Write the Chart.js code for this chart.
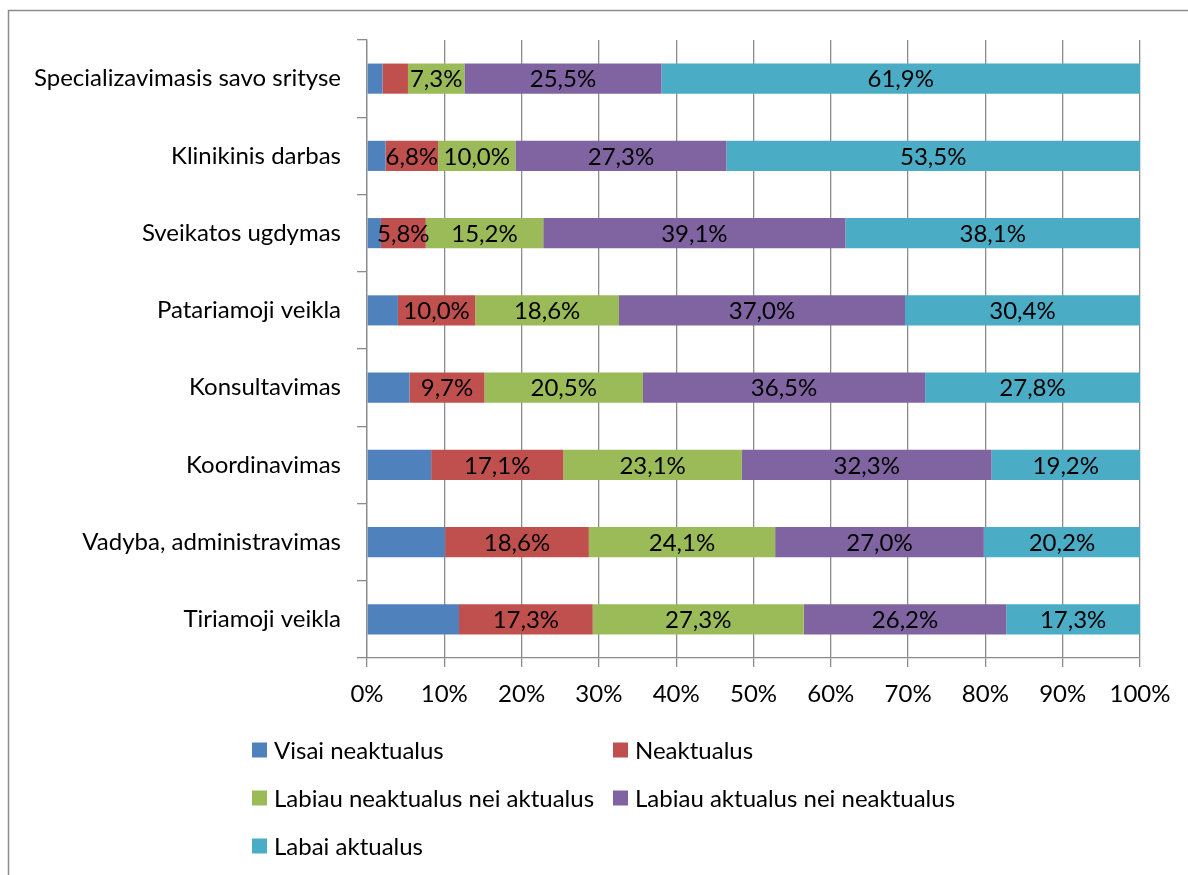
<!DOCTYPE html>
<html>
<head>
<meta charset="utf-8">
<script src="https://cdn.jsdelivr.net/npm/chart.js@4"></script>
<style>
  html, body { margin: 0; padding: 0; background: #fff; }
  #wrap { position: relative; width: 1188px; height: 875px; }
</style>
</head>
<body>
<div id="wrap"><canvas id="c" width="1188" height="875"></canvas></div>
<script>
const categories = [
  'Specializavimasis savo srityse',
  'Klinikinis darbas',
  'Sveikatos ugdymas',
  'Patariamoji veikla',
  'Konsultavimas',
  'Koordinavimas',
  'Vadyba, administravimas',
  'Tiriamoji veikla'
];
const seriesNames = [
  'Visai neaktualus',
  'Neaktualus',
  'Labiau neaktualus nei aktualus',
  'Labiau aktualus nei neaktualus',
  'Labai aktualus'
];
const visaiNeaktualus = [2.0, 2.4, 1.8, 4.0, 5.5, 8.3, 10.1, 11.9];
const neaktualus      = [3.3, 6.8, 5.8, 10.0, 9.7, 17.1, 18.6, 17.3];
const labiauNeakt     = [7.3, 10.0, 15.2, 18.6, 20.5, 23.1, 24.1, 27.3];
const labiauAkt       = [25.5, 27.3, 39.1, 37.0, 36.5, 32.3, 27.0, 26.2];
const labaiAktualus   = [61.9, 53.5, 38.1, 30.4, 27.8, 19.2, 20.2, 17.3];
const colors = ['#4F81BD', '#C0504D', '#9BBB59', '#8064A2', '#4BACC6'];
const xTicks = [0, 10, 20, 30, 40, 50, 60, 70, 80, 90, 100];

const FONT = 'Lato, "Noto Sans", sans-serif';
const FSIZE = 24;
const allSeries = [visaiNeaktualus, neaktualus, labiauNeakt, labiauAkt, labaiAktualus];

const fmt = v => v.toFixed(1).replace('.', ',') + '%';

// draws the values inside the segments (first series and tiny ones are not labelled)
const valueLabels = {
  id: 'valueLabels',
  afterDatasetsDraw(chart) {
    const ctx = chart.ctx;
    ctx.save();
    ctx.font = FSIZE + 'px ' + FONT;
    ctx.fillStyle = '#000';
    ctx.textAlign = 'center';
    ctx.textBaseline = 'middle';
    chart.data.datasets.forEach((ds, i) => {
      if (i === 0) return;
      chart.getDatasetMeta(i).data.forEach((el, j) => {
        const v = ds.data[j];
        if (v < 4) return;
        const p = el.getCenterPoint();
        ctx.fillText(fmt(v), p.x, p.y + 1);
      });
    });
    ctx.restore();
  }
};

// frame around the whole chart and the two-column legend
const frameAndLegend = {
  id: 'frameAndLegend',
  afterDraw(chart) {
    const ctx = chart.ctx;
    ctx.save();
    ctx.strokeStyle = '#8c8c8c';
    ctx.lineWidth = 1.5;
    ctx.beginPath();
    ctx.moveTo(8.5, 880);
    ctx.lineTo(8.5, 10.5);
    ctx.lineTo(1200, 10.5);
    ctx.stroke();

    const cols = [252, 613];
    const rows = [750, 798, 846];
    ctx.font = FSIZE + 'px ' + FONT;
    ctx.textBaseline = 'middle';
    ctx.textAlign = 'left';
    chart.data.datasets.forEach((ds, i) => {
      const x = cols[i % 2];
      const y = rows[Math.floor(i / 2)];
      ctx.fillStyle = ds.backgroundColor;
      ctx.fillRect(x, y - 7.5, 15, 15);
      ctx.fillStyle = '#000';
      ctx.fillText(ds.label, x + 22, y + 1);
    });
    ctx.restore();
  }
};

new Chart(document.getElementById('c'), {
  type: 'bar',
  data: {
    labels: categories,
    datasets: allSeries.map((d, i) => ({
      label: seriesNames[i],
      data: d,
      backgroundColor: colors[i],
      borderWidth: 0,
      barPercentage: 0.39,
      categoryPercentage: 1
    }))
  },
  options: {
    indexAxis: 'y',
    responsive: false,
    animation: false,
    layout: { padding: { top: 40, right: 48, bottom: 147, left: 0 } },
    plugins: {
      legend: { display: false },
      tooltip: { enabled: false }
    },
    scales: {
      x: {
        stacked: true,
        min: 0,
        max: 100,
        afterBuildTicks(scale) { scale.ticks = xTicks.map(v => ({ value: v })); },
        afterFit(scale) { scale.height = 70; },
        grid: { color: '#8c8c8c', lineWidth: 1.3, tickLength: 9 },
        border: { color: '#8c8c8c', width: 1.3 },
        ticks: {
          color: '#000',
          padding: 13,
          font: { size: FSIZE, family: FONT },
          callback: v => v + '%'
        }
      },
      y: {
        stacked: true,
        afterFit(scale) { scale.width = 367; },
        grid: { display: true, drawOnChartArea: false, offset: true, color: '#8c8c8c', lineWidth: 1.3, tickLength: 10 },
        border: { color: '#8c8c8c', width: 1.3 },
        ticks: {
          color: '#000',
          padding: 16,
          font: { size: FSIZE, family: FONT }
        }
      }
    }
  },
  plugins: [valueLabels, frameAndLegend]
});
</script>
</body>
</html>
